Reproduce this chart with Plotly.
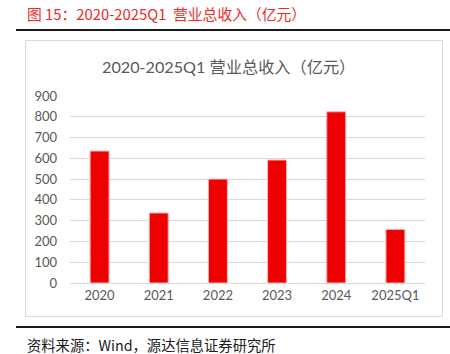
import plotly.graph_objects as go

categories = ["2020", "2021", "2022", "2023", "2024", "2025Q1"]
revenue = [635, 337, 500, 592, 824, 258]
y_ticks = [0, 100, 200, 300, 400, 500, 600, 700, 800, 900]

W, H = 450, 354
L, R, T, B = 70, 25, 96, 71
PW, PH = W - L - R, H - T - B

def px(x):
    return (x - L) / PW

def py(y):
    return 1 - (y - T) / PH

fig = go.Figure()
fig.add_trace(go.Bar(
    x=categories, y=revenue,
    marker=dict(color="#EE0000", line=dict(color="#FFB0B0", width=1)),
    hoverinfo="skip",
))

cjk = "Noto Sans CJK SC, Noto Sans, sans-serif"
lato = "Lato, Noto Sans CJK SC, sans-serif"

shapes = [
    dict(type="line", xref="paper", yref="paper", x0=px(16), x1=px(450), y0=py(30), y1=py(30),
         line=dict(color="#1a1a1a", width=2)),
    dict(type="line", xref="paper", yref="paper", x0=px(16), x1=px(450), y0=py(327), y1=py(327),
         line=dict(color="#1a1a1a", width=2)),
    dict(type="rect", xref="paper", yref="paper", x0=px(25.5), x1=px(442.5), y0=py(40.5), y1=py(316.5),
         line=dict(color="#D9D9D9", width=1), layer="below"),
]

annotations = [
    dict(text="图 15：2020-2025Q1  营业总收入（亿元）", xref="paper", yref="paper",
         x=px(25), y=py(13), xanchor="left", yanchor="middle", showarrow=False,
         font=dict(family=cjk, size=14.8, color="#EE2A2A")),
    dict(text="2020-2025Q1 营业总收入（亿元）", xref="paper", yref="paper",
         x=px(228), y=py(66), xanchor="center", yanchor="middle", showarrow=False,
         font=dict(family=lato, size=16.2, color="#595959")),
    dict(text="资料来源：Wind，源达信息证券研究所", xref="paper", yref="paper",
         x=px(25), y=py(344), xanchor="left", yanchor="middle", showarrow=False,
         font=dict(family=cjk, size=14.3, color="#1a1a1a")),
]

fig.update_layout(
    width=W, height=H,
    margin=dict(l=L, r=R, t=T, b=B, pad=0),
    paper_bgcolor="white", plot_bgcolor="white",
    showlegend=False,
    bargap=0.68,
    shapes=shapes,
    annotations=annotations,
    xaxis=dict(showgrid=False, showline=True, linecolor="#D9D9D9", linewidth=1,
               ticks="", tickfont=dict(family=lato, size=13, color="#595959"),
               fixedrange=True),
    yaxis=dict(range=[0, 900], tickvals=y_ticks, showgrid=True, gridcolor="#D9D9D9",
               gridwidth=1, zeroline=False, showline=False, ticks="",
               ticklabelstandoff=12,
               tickfont=dict(family=lato, size=13, color="#595959"), fixedrange=True),
)

fig.write_html("out.html", config={"displayModeBar": False})
